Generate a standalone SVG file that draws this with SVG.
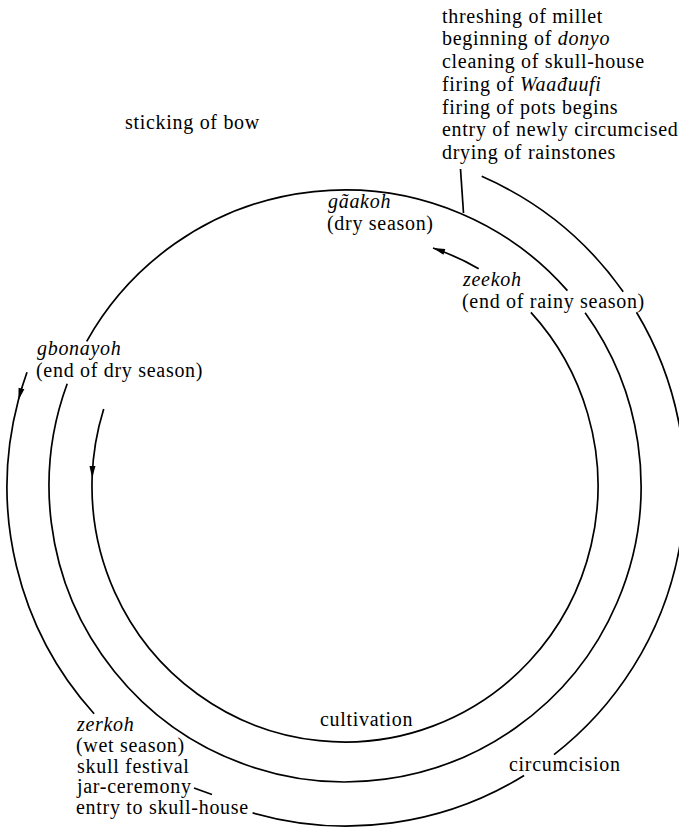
<svg xmlns="http://www.w3.org/2000/svg" width="679" height="828" viewBox="0 0 679 828">
<style>
  text { font-family: "Liberation Serif", "Times New Roman", serif; font-size: 20px; letter-spacing: 0.7px; fill: #000; }
  .it { font-style: italic; }
  .ln { fill: none; stroke: #000; stroke-width: 1.7; }
</style>
<defs>
  <marker id="ah" markerUnits="userSpaceOnUse" markerWidth="14" markerHeight="8" refX="12" refY="3" orient="auto" overflow="visible">
    <path d="M0,0 L12,3 L0,6 z" fill="#000"/>
  </marker>
</defs>
<g id="connectors">
  <path class="ln" d="M 67.2 383.8 A 296 296 0 1 0 585.1 312.8"/>
  <path class="ln" d="M 567.4 290.6 A 296 296 0 0 0 86.7 341.3"/>
  <path class="ln" marker-mid="url(#ah)" d="M 27.0 372.2 A 339 339 0 0 0 18.4 400 A 339 339 0 0 0 94.1 713.8"/>
  <path class="ln" d="M 252.6 812.9 A 339 339 0 0 0 524.1 775.5"/>
  <path class="ln" d="M 554.0 754.6 A 339 339 0 0 0 636.5 312.2"/>
  <path class="ln" d="M 623.2 291.8 A 339 339 0 0 0 481.7 176.3"/>
  <path class="ln" marker-mid="url(#ah)" d="M 103.7 409.0 A 253 256 0 0 0 92.1 478.0 A 253 256 0 1 0 530.9 312.4"/>
  <path class="ln" marker-end="url(#ah)" d="M 478.7 268.7 A 253 256 0 0 0 433 248"/>
  <line class="ln" x1="460.5" y1="169" x2="463.5" y2="213"/>
  <line class="ln" x1="194" y1="788" x2="212" y2="794.5"/>
</g>
<g id="dry-season-events">
  <text x="442" y="22.7">threshing of millet</text>
  <text x="442" y="45.4">beginning of <tspan class="it">donyo</tspan></text>
  <text x="442" y="68.1">cleaning of skull-house</text>
  <text x="442" y="90.8">firing of <tspan class="it">Waađuufi</tspan></text>
  <text x="442" y="113.5">firing of pots begins</text>
  <text x="442" y="136.2">entry of newly circumcised</text>
  <text x="442" y="158.9">drying of rainstones</text>
</g>
<g id="sticking-of-bow">
  <text x="125" y="129">sticking of bow</text>
</g>
<g id="gaakoh">
  <text x="328" y="208" class="it">gãakoh</text>
  <text x="327" y="229.5">(dry season)</text>
</g>
<g id="zeekoh">
  <text x="463" y="286" class="it">zeekoh</text>
  <text x="462" y="307.5">(end of rainy season)</text>
</g>
<g id="gbonayoh">
  <text x="37" y="355" class="it">gbonayoh</text>
  <text x="36" y="376.5">(end of dry season)</text>
</g>
<g id="cultivation">
  <text x="320" y="726">cultivation</text>
</g>
<g id="circumcision">
  <text x="509" y="771">circumcision</text>
</g>
<g id="zerkoh">
  <text x="77" y="730.5" class="it">zerkoh</text>
  <text x="76" y="751.5">(wet season)</text>
  <text x="77" y="772.5">skull festival</text>
  <text x="77" y="793">jar-ceremony</text>
  <text x="76" y="813.5">entry to skull-house</text>
</g>
</svg>
